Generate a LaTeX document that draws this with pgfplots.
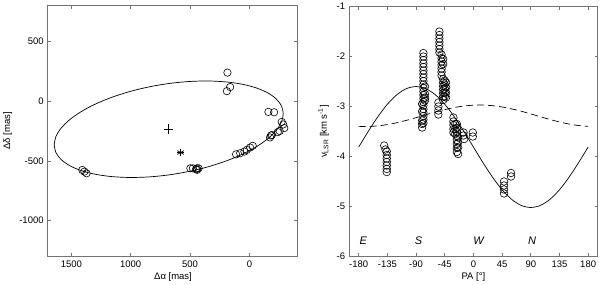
\documentclass[border=0pt]{standalone}
\usepackage{fontspec}
\setmainfont{Liberation Sans}
\usepackage{pgfplots}
\pgfplotsset{compat=1.18}
\begin{document}
\begin{tikzpicture}
\path[draw=none] (0pt,0pt) rectangle (600pt,283pt);
\pgfplotsset{
  mystyle/.style={
    scale only axis,
    anchor=south west,
    axis line style={black!55, line width=0.6pt},
    tick style={black!55, line width=0.6pt},
    tick align=inside,
    major tick length=3pt,
    /pgf/number format/assume math mode=true,
    /pgf/number format/set thousands separator={},
    tick label style={font=\fontsize{9.5}{11}\selectfont, text=black},
    label style={font=\fontsize{9.5}{11}\selectfont},
    xticklabel style={yshift=-0.5pt},
    yticklabel style={xshift=-0.5pt},
    clip=true,
  }
}
% ---------------- left panel
\begin{axis}[mystyle,
  at={(47.3pt,27.3pt)}, width=249.4pt, height=251pt,
  x dir=reverse, xmin=-400, xmax=1700, ymin=-1300, ymax=800,
  xtick={0,500,1000,1500}, ytick={-1000,-500,0,500},
  xlabel={Δα [mas]}, ylabel={Δδ [mas]},
  x label style={at={(axis description cs:0.503,-0.081)}, anchor=center},
  y label style={at={(axis description cs:-0.160,0.5)}, anchor=center},
]
\addplot[black, line width=0.7pt, smooth] coordinates {
(1645,-365) (1630.3,-296.6) (1586.8,-226.4) (1515.7,-156.3) (1419.2,-88.7)
(1300.3,-25.6) (1162.5,31.2) (1010.0,79.9) (847.5,119.1) (680,147.5)
(512.5,164.3) (350.0,168.9) (197.5,161.2) (59.7,141.6) (-59.2,110.5)
(-155.7,68.9) (-226.8,18.0) (-270.3,-40.6) (-285,-105) (-270.3,-173.4)
(-226.8,-243.6) (-155.7,-313.7) (-59.2,-381.3) (59.7,-444.4) (197.5,-501.2)
(350,-549.9) (512.5,-589.1) (680,-617.5) (847.5,-634.3) (1010,-638.9)
(1162.5,-631.2) (1300.3,-611.6) (1419.2,-580.5) (1515.7,-538.9) (1586.8,-488)
(1630.3,-429.4) (1645,-365)
};
\addplot[only marks, mark=o, mark size=3.7pt, mark options={black, line width=0.6pt}] coordinates {
(185,239) (162,118) (190,84) (-160,-90) (-208,-93)
(-272,-174) (-285,-195) (-294,-225) (-255,-250) (-239,-259)
(-190,-283) (-182,-287) (-174,-304) (-28,-374) (-6,-388)
(22,-408) (42,-422) (78,-436) (112,-445)
(428,-562) (442,-562) (450,-570) (440,-575) (476,-562) (498,-562)
(1408,-576) (1390,-590) (1372,-604)
};
\addplot[only marks, mark=+, mark size=4.8pt, mark options={black, line width=0.7pt}] coordinates {(680,-233)};
\addplot[only marks, mark=asterisk, mark size=3.7pt, mark options={black, line width=0.7pt}] coordinates {(580,-430)};
\addplot[only marks, mark=-, mark size=3.5pt, mark options={black, line width=0.7pt}] coordinates {(580,-430)};
\end{axis}
% ---------------- right panel
\begin{axis}[mystyle,
  at={(349pt,27.3pt)}, width=248.7pt, height=250pt,
  xmin=-195, xmax=195, ymin=-6, ymax=-1,
  xtick={-180,-135,...,180}, ytick={-6,-5,...,-1},
  xlabel={PA [°]}, ylabel={v\textsubscript{LSR} [km s\textsuperscript{-1}]},
  x label style={at={(axis description cs:0.5,-0.081)}, anchor=center},
  y label style={at={(axis description cs:-0.103,0.5)}, anchor=center},
]
\addplot[black, line width=0.7pt, smooth] coordinates {
(-180,-3.81) (-165,-3.497) (-150,-3.205) (-135,-2.954) (-120,-2.762)
(-105,-2.641) (-90,-2.60) (-75,-2.641) (-60,-2.762) (-45,-2.954)
(-30,-3.205) (-15,-3.497) (0,-3.81) (15,-4.123) (30,-4.415)
(45,-4.666) (60,-4.858) (75,-4.979) (90,-5.02) (105,-4.979)
(120,-4.858) (135,-4.666) (150,-4.415) (165,-4.123) (180,-3.81)
};
\addplot[black, line width=0.7pt, smooth, dash pattern=on 7pt off 4pt] coordinates {
(-180,-3.397) (-165,-3.399) (-150,-3.387) (-135,-3.361) (-120,-3.323)
(-105,-3.276) (-90,-3.222) (-75,-3.166) (-60,-3.111) (-45,-3.062)
(-30,-3.020) (-15,-2.990) (0,-2.973) (15,-2.971) (30,-2.983)
(45,-3.009) (60,-3.047) (75,-3.094) (90,-3.148) (105,-3.204)
(120,-3.259) (135,-3.308) (150,-3.350) (165,-3.380) (180,-3.397)
};
\addplot[only marks, mark=o, mark size=3.8pt, mark options={black, line width=0.6pt}] coordinates {
(-140,-3.78) (-138,-3.86) (-136,-3.90) (-136,-3.97) (-136,-4.04)
(-136,-4.11) (-136,-4.18) (-136,-4.25) (-136,-4.31)
(-78.5,-1.93) (-78.5,-2.00) (-78.5,-2.07) (-78.5,-2.14) (-78.5,-2.21)
(-78.5,-2.28) (-78.5,-2.35) (-78.5,-2.42) (-78.5,-2.49) (-78.5,-2.56)
(-78.5,-2.63) (-78.5,-2.70) (-78.5,-2.77) (-78.5,-2.84) (-78.5,-2.91)
(-78.5,-2.98) (-78.5,-3.05) (-78.5,-3.12) (-78.5,-3.19) (-78.5,-3.26)
(-78.5,-3.33) (-80.5,-3.42) (-80.5,-3.35) (-80.5,-3.28) (-80.5,-3.10)
(-80.5,-2.95) (-76,-2.75) (-76,-2.82) (-76,-2.88) (-76,-2.60)
(-53.4,-1.50) (-53.4,-1.57) (-53.4,-1.64) (-53.4,-1.71) (-53.4,-1.78)
(-53.4,-1.85) (-53.4,-1.92)
(-50,-1.96) (-50,-2.03) (-50,-2.10) (-50,-2.17) (-50,-2.24) (-50,-2.31) (-50,-2.38)
(-47.5,-2.05) (-47.5,-2.15) (-47.5,-2.45) (-47.5,-2.52) (-47.5,-2.59) (-47.5,-2.66)
(-47.5,-2.73) (-47.5,-2.80) (-47.5,-2.87)
(-45,-2.48) (-45,-2.56) (-45,-2.64) (-45,-2.72) (-45,-2.80)
(-43,-2.52) (-43,-2.62) (-43,-2.72) (-43,-2.82)
(-55,-2.92) (-55,-3.00) (-55,-3.08) (-55,-3.16)
(-31.4,-3.22) (-31.4,-3.30) (-31.4,-3.37) (-31.4,-3.45) (-31.4,-3.52)
(-28.5,-3.35) (-28.5,-3.45) (-28.5,-3.55)
(-26,-3.35) (-26,-3.43) (-26,-3.51) (-26,-3.59) (-26,-3.67) (-26,-3.75)
(-26,-3.83) (-26,-3.91) (-24,-3.62) (-24,-3.72) (-24,-3.82) (-24,-3.95)
(-15.5,-3.52) (-15.5,-3.58) (-14.5,-3.65)
(-1,-3.52) (-1,-3.60)
(48,-4.50) (48,-4.58) (48,-4.66) (48,-4.74)
(59,-4.33) (59,-4.40)
};
\node[font=\fontsize{11}{12}\selectfont\itshape] at (axis cs:-173,-5.69) {E};
\node[font=\fontsize{11}{12}\selectfont\itshape] at (axis cs:-86,-5.69) {S};
\node[font=\fontsize{11}{12}\selectfont\itshape] at (axis cs:8,-5.69) {W};
\node[font=\fontsize{11}{12}\selectfont\itshape] at (axis cs:92,-5.69) {N};
\end{axis}
\end{tikzpicture}
\end{document}
